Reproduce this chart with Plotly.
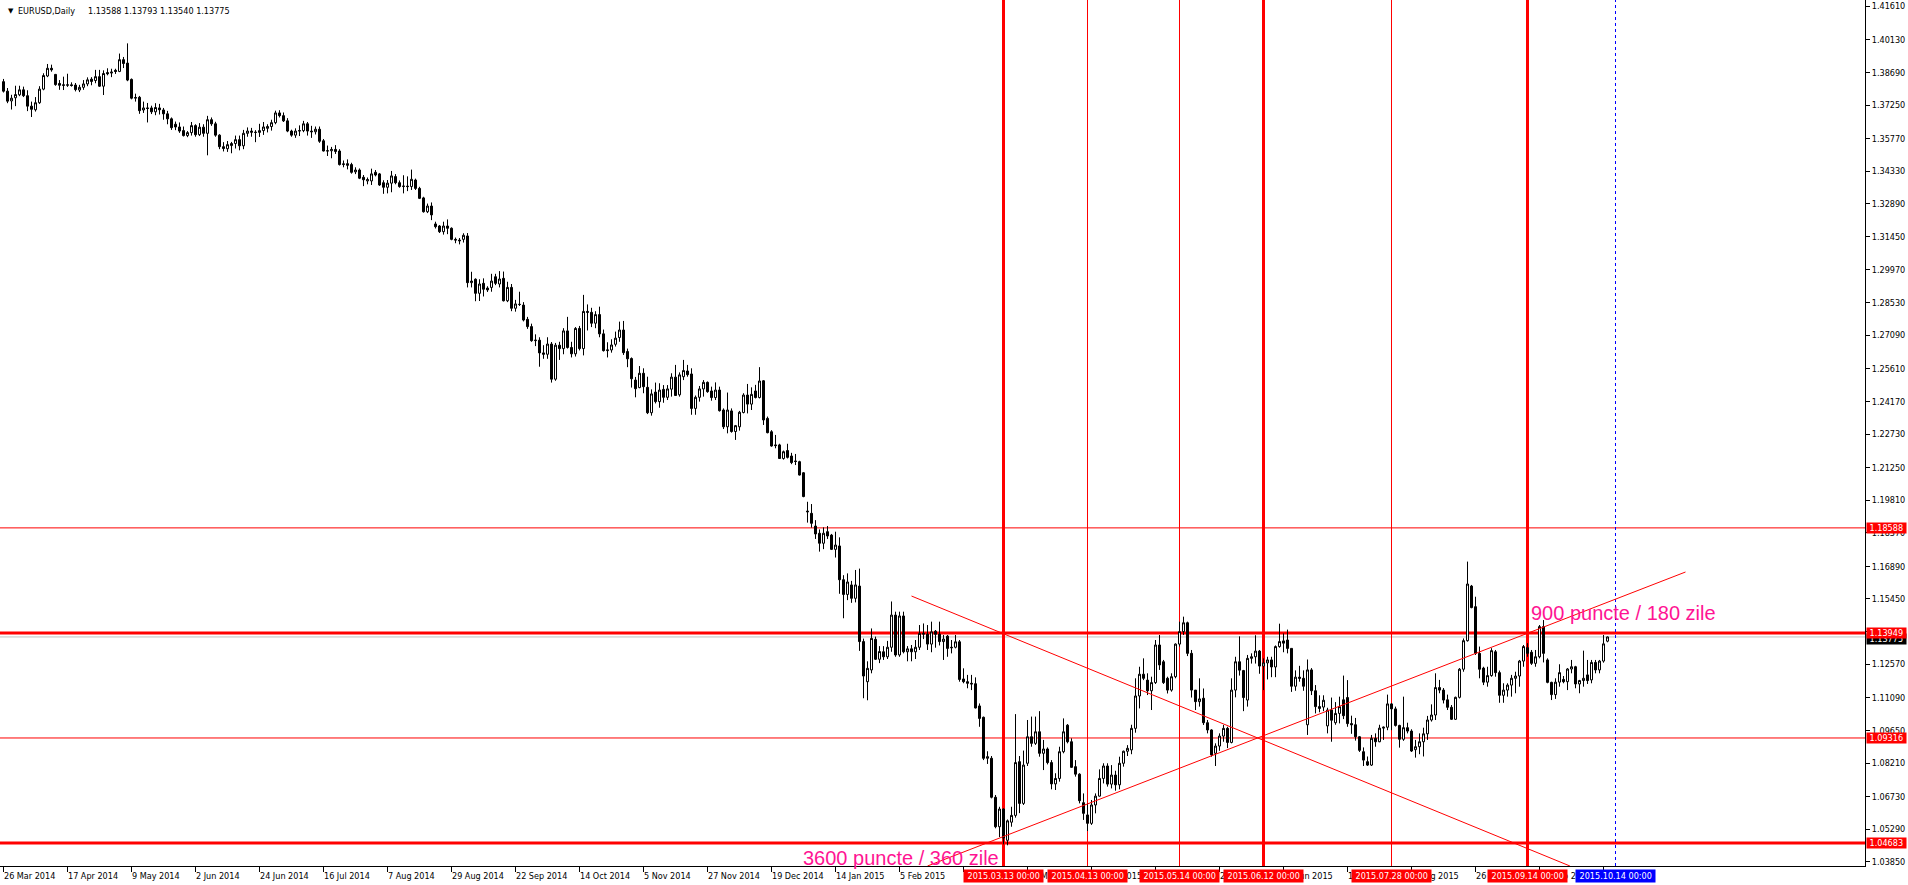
import pandas as pd
import plotly.graph_objects as go

# ---------------- data ----------------
symbol_text = "EURUSD,Daily"
last_ohlc_text = "1.13588 1.13793 1.13540 1.13775"
first_day = "2014-03-26"
last_day = "2015-10-12"
closed_days = ["2014-12-25", "2015-01-01"]

opens = [
    1.3828, 1.3786, 1.3743, 1.3757, 1.3770, 1.3792, 1.3766, 1.3720, 1.3704, 1.3735,
    1.3795, 1.3853, 1.3887, 1.3860, 1.3820, 1.3814, 1.3812, 1.3814, 1.3813, 1.3791,
    1.3803, 1.3818, 1.3839, 1.3833, 1.3850, 1.3808, 1.3868, 1.3866, 1.3878, 1.3873,
    1.3925, 1.3910, 1.3838, 1.3755, 1.3759, 1.3703, 1.3712, 1.3712, 1.3695, 1.3712,
    1.3703, 1.3686, 1.3664, 1.3640, 1.3628, 1.3612, 1.3590, 1.3603, 1.3634, 1.3594,
    1.3627, 1.3600, 1.3660, 1.3642, 1.3592, 1.3541, 1.3532, 1.3546, 1.3555, 1.3572,
    1.3545, 1.3600, 1.3610, 1.3605, 1.3604, 1.3612, 1.3622, 1.3630, 1.3647, 1.3690,
    1.3678, 1.3655, 1.3610, 1.3592, 1.3610, 1.3612, 1.3642, 1.3610, 1.3607, 1.3618,
    1.3567, 1.3522, 1.3523, 1.3529, 1.3522, 1.3462, 1.3466, 1.3462, 1.3430, 1.3438,
    1.3406, 1.3390, 1.3390, 1.3428, 1.3421, 1.3382, 1.3362, 1.3380, 1.3409, 1.3382,
    1.3365, 1.3367, 1.3365, 1.3394, 1.3357, 1.3315, 1.3254, 1.3279, 1.3200, 1.3191,
    1.3166, 1.3191, 1.3181, 1.3132, 1.3129, 1.3132, 1.3147, 1.2941, 1.2956, 1.2894,
    1.2938, 1.2917, 1.2920, 1.2967, 1.2935, 1.2960, 1.2861, 1.2920, 1.2828, 1.2845,
    1.2842, 1.2779, 1.2747, 1.2685, 1.2687, 1.2631, 1.2625, 1.2670, 1.2515, 1.2665,
    1.2650, 1.2728, 1.2655, 1.2627, 1.2739, 1.2650, 1.2814, 1.2810, 1.2762, 1.2800,
    1.2715, 1.2641, 1.2644, 1.2669, 1.2699, 1.2732, 1.2637, 1.2606, 1.2511, 1.2478,
    1.2541, 1.2479, 1.2367, 1.2458, 1.2416, 1.2470, 1.2435, 1.2471, 1.2524, 1.2446,
    1.2526, 1.2551, 1.2538, 1.2386, 1.2435, 1.2472, 1.2501, 1.2463, 1.2434, 1.2467,
    1.2379, 1.2305, 1.2375, 1.2284, 1.2305, 1.2368, 1.2445, 1.2405, 1.2463, 1.2434,
    1.2508, 1.2342, 1.2283, 1.2225, 1.2225, 1.2165, 1.2200, 1.2176, 1.2154, 1.2151,
    1.2102, 1.1933, 1.1923, 1.1867, 1.1835, 1.1791, 1.1842, 1.1827, 1.1764, 1.1779,
    1.1630, 1.1565, 1.1607, 1.1548, 1.1602, 1.1357, 1.1180, 1.1232, 1.1367, 1.1279,
    1.1312, 1.1290, 1.1332, 1.1474, 1.1298, 1.1470, 1.1312, 1.1325, 1.1312, 1.1332,
    1.1393, 1.1390, 1.1346, 1.1403, 1.1390, 1.1357, 1.1381, 1.1332, 1.1332, 1.1356,
    1.1192, 1.1180, 1.1173, 1.1171, 1.1073, 1.1023, 1.0842, 1.0842, 1.0670, 1.0540,
    1.0618, 1.0480, 1.0560, 1.0590, 1.0827, 1.0643, 1.0820, 1.0937, 1.0908, 1.0959,
    1.0864, 1.0883, 1.0823, 1.0729, 1.0753, 1.0871, 1.0988, 1.0915, 1.0805, 1.0772,
    1.0646, 1.0592, 1.0555, 1.0636, 1.0675, 1.0753, 1.0808, 1.0728, 1.0768, 1.0725,
    1.0820, 1.0873, 1.0879, 1.0974, 1.1117, 1.1213, 1.1187, 1.1140, 1.1176, 1.1342,
    1.1268, 1.1195, 1.1143, 1.1202, 1.1346, 1.1401, 1.1440, 1.1305, 1.1143, 1.1092,
    1.1107, 1.0999, 1.0967, 1.0864, 1.0896, 1.0940, 1.0974, 1.0912, 1.1143, 1.1268,
    1.1229, 1.1099, 1.1283, 1.1290, 1.1315, 1.1249, 1.1263, 1.1276, 1.1245, 1.1335,
    1.1360, 1.1364, 1.1327, 1.1160, 1.1200, 1.1195, 1.0990, 1.1232, 1.1140, 1.1070,
    1.1068, 1.0985, 1.1055, 1.0999, 1.1040, 1.1100, 1.1110, 1.0995, 1.0990, 1.0937,
    1.0871, 1.0827, 1.0812, 1.0930, 1.0915, 1.0975, 1.0979, 1.1082, 1.1060, 1.0987,
    1.0926, 1.0977, 1.0962, 1.0880, 1.0893, 1.0915, 1.0950, 1.1011, 1.1033, 1.1154,
    1.1143, 1.1100, 1.1067, 1.1014, 1.1111, 1.1235, 1.1361, 1.1602, 1.1511, 1.1305,
    1.1240, 1.1178, 1.1207, 1.1312, 1.1220, 1.1120, 1.1143, 1.1165, 1.1195, 1.1205,
    1.1271, 1.1330, 1.1310, 1.1261, 1.1290, 1.1423, 1.1276, 1.1177, 1.1123, 1.1178,
    1.1190, 1.1180, 1.1236, 1.1246, 1.1170, 1.1185, 1.1210, 1.1188, 1.1265, 1.1232,
    1.1271, 1.13588,
]

highs = [
    1.3840, 1.3800, 1.3770, 1.3810, 1.3810, 1.3806, 1.3790, 1.3740, 1.3760, 1.3808,
    1.3865, 1.3906, 1.3903, 1.3862, 1.3835, 1.3850, 1.3863, 1.3825, 1.3822, 1.3814,
    1.3835, 1.3847, 1.3848, 1.3880, 1.3880, 1.3878, 1.3887, 1.3885, 1.3885, 1.3952,
    1.3937, 1.3997, 1.3842, 1.3775, 1.3765, 1.3740, 1.3734, 1.3722, 1.3733, 1.3730,
    1.3712, 1.3699, 1.3670, 1.3652, 1.3648, 1.3630, 1.3610, 1.3650, 1.3640, 1.3645,
    1.3640, 1.3677, 1.3670, 1.3651, 1.3596, 1.3561, 1.3566, 1.3562, 1.3590, 1.3590,
    1.3615, 1.3626, 1.3624, 1.3614, 1.3642, 1.3650, 1.3640, 1.3660, 1.3700, 1.3702,
    1.3692, 1.3667, 1.3616, 1.3622, 1.3635, 1.3655, 1.3650, 1.3633, 1.3630, 1.3630,
    1.3575, 1.3546, 1.3540, 1.3548, 1.3530, 1.3480, 1.3485, 1.3470, 1.3450, 1.3445,
    1.3416, 1.3405, 1.3444, 1.3438, 1.3425, 1.3393, 1.3394, 1.3434, 1.3420, 1.3392,
    1.3415, 1.3410, 1.3440, 1.3400, 1.3364, 1.3320, 1.3290, 1.3295, 1.3210, 1.3195,
    1.3210, 1.3220, 1.3185, 1.3140, 1.3138, 1.3159, 1.3160, 1.2989, 1.2960, 1.2956,
    1.2960, 1.2925, 1.2980, 1.2980, 1.2992, 1.2990, 1.2945, 1.2935, 1.2865, 1.2901,
    1.2855, 1.2790, 1.2760, 1.2713, 1.2700, 1.2665, 1.2700, 1.2679, 1.2675, 1.2680,
    1.2740, 1.2790, 1.2680, 1.2745, 1.2750, 1.2887, 1.2845, 1.2830, 1.2815, 1.2835,
    1.2734, 1.2678, 1.2691, 1.2725, 1.2769, 1.2772, 1.2650, 1.2611, 1.2525, 1.2573,
    1.2563, 1.2526, 1.2470, 1.2500, 1.2497, 1.2489, 1.2489, 1.2541, 1.2578, 1.2545,
    1.2600, 1.2578, 1.2563, 1.2443, 1.2485, 1.2511, 1.2505, 1.2482, 1.2501, 1.2482,
    1.2386, 1.2456, 1.2386, 1.2313, 1.2375, 1.2453, 1.2494, 1.2479, 1.2490, 1.2568,
    1.2511, 1.2350, 1.2290, 1.2269, 1.2230, 1.2200, 1.2230, 1.2190, 1.2185, 1.2155,
    1.2105, 1.1974, 1.1964, 1.1893, 1.1852, 1.1861, 1.1867, 1.1832, 1.1842, 1.1817,
    1.1650, 1.1658, 1.1625, 1.1673, 1.1679, 1.1370, 1.1270, 1.1415, 1.1379, 1.1337,
    1.1337, 1.1360, 1.1534, 1.1489, 1.1489, 1.1489, 1.1337, 1.1342, 1.1364, 1.1430,
    1.1437, 1.1430, 1.1445, 1.1408, 1.1445, 1.1386, 1.1386, 1.1364, 1.1386, 1.1364,
    1.1239, 1.1210, 1.1210, 1.1199, 1.1084, 1.1026, 1.0873, 1.0852, 1.0680, 1.0628,
    1.0621, 1.0572, 1.0628, 1.1037, 1.0852, 1.0876, 1.1011, 1.1026, 1.1026, 1.1050,
    1.0923, 1.0890, 1.0834, 1.0776, 1.0893, 1.1018, 1.0993, 1.0930, 1.0834, 1.0776,
    1.0687, 1.0643, 1.0658, 1.0687, 1.0793, 1.0820, 1.0820, 1.0812, 1.0787, 1.0849,
    1.0876, 1.0900, 1.0990, 1.1195, 1.1246, 1.1283, 1.1217, 1.1202, 1.1364, 1.1386,
    1.1276, 1.1202, 1.1217, 1.1349, 1.1445, 1.1467, 1.1445, 1.1320, 1.1143, 1.1195,
    1.1150, 1.1011, 1.0970, 1.0908, 1.0952, 1.0989, 1.0981, 1.1195, 1.1290, 1.1380,
    1.1232, 1.1298, 1.1305, 1.1385, 1.1320, 1.1283, 1.1290, 1.1290, 1.1340, 1.1436,
    1.1393, 1.1410, 1.1327, 1.1230, 1.1250, 1.1230, 1.1278, 1.1240, 1.1165, 1.1120,
    1.1120, 1.1065, 1.1110, 1.1090, 1.1114, 1.1207, 1.1187, 1.1030, 1.1020, 1.0940,
    1.0890, 1.0850, 1.0945, 1.0952, 1.0990, 1.0982, 1.1123, 1.1085, 1.1070, 1.0990,
    1.1114, 1.0999, 1.0970, 1.0923, 1.0952, 1.0977, 1.1029, 1.1080, 1.1217, 1.1188,
    1.1152, 1.1123, 1.1077, 1.1114, 1.1240, 1.1371, 1.1710, 1.1607, 1.1555, 1.1335,
    1.1246, 1.1246, 1.1328, 1.1320, 1.1229, 1.1173, 1.1173, 1.1210, 1.1224, 1.1276,
    1.1342, 1.1350, 1.1320, 1.1320, 1.1430, 1.1452, 1.1283, 1.1180, 1.1195, 1.1257,
    1.1205, 1.1240, 1.1276, 1.1250, 1.1188, 1.1317, 1.1276, 1.1276, 1.1276, 1.1276,
    1.1386, 1.13793,
]

lows = [
    1.3780, 1.3733, 1.3705, 1.3720, 1.3764, 1.3760, 1.3698, 1.3672, 1.3696, 1.3730,
    1.3790, 1.3848, 1.3872, 1.3810, 1.3792, 1.3791, 1.3805, 1.3806, 1.3785, 1.3782,
    1.3792, 1.3808, 1.3812, 1.3821, 1.3805, 1.3769, 1.3856, 1.3848, 1.3862, 1.3870,
    1.3888, 1.3830, 1.3750, 1.3740, 1.3686, 1.3690, 1.3648, 1.3685, 1.3680, 1.3683,
    1.3660, 1.3640, 1.3615, 1.3614, 1.3602, 1.3586, 1.3583, 1.3590, 1.3585, 1.3588,
    1.3585, 1.3503, 1.3633, 1.3585, 1.3530, 1.3520, 1.3518, 1.3512, 1.3533, 1.3525,
    1.3530, 1.3585, 1.3585, 1.3561, 1.3584, 1.3593, 1.3604, 1.3612, 1.3640, 1.3670,
    1.3650, 1.3605, 1.3585, 1.3580, 1.3588, 1.3605, 1.3590, 1.3580, 1.3595, 1.3558,
    1.3520, 1.3500, 1.3490, 1.3509, 1.3458, 1.3450, 1.3441, 1.3422, 1.3420, 1.3398,
    1.3367, 1.3375, 1.3372, 1.3410, 1.3368, 1.3333, 1.3335, 1.3340, 1.3375, 1.3360,
    1.3335, 1.3345, 1.3350, 1.3350, 1.3310, 1.3250, 1.3248, 1.3217, 1.3180, 1.3160,
    1.3153, 1.3155, 1.3128, 1.3115, 1.3110, 1.3118, 1.2920, 1.2920, 1.2859, 1.2860,
    1.2880, 1.2900, 1.2901, 1.2930, 1.2920, 1.2858, 1.2855, 1.2815, 1.2813, 1.2838,
    1.2770, 1.2737, 1.2680, 1.2661, 1.2570, 1.2605, 1.2605, 1.2500, 1.2508, 1.2600,
    1.2625, 1.2650, 1.2611, 1.2615, 1.2642, 1.2620, 1.2730, 1.2745, 1.2740, 1.2700,
    1.2637, 1.2611, 1.2632, 1.2659, 1.2680, 1.2622, 1.2568, 1.2478, 1.2435, 1.2475,
    1.2453, 1.2361, 1.2354, 1.2408, 1.2389, 1.2411, 1.2423, 1.2438, 1.2442, 1.2438,
    1.2511, 1.2526, 1.2358, 1.2358, 1.2416, 1.2438, 1.2455, 1.2420, 1.2423, 1.2372,
    1.2295, 1.2276, 1.2279, 1.2247, 1.2288, 1.2364, 1.2364, 1.2379, 1.2430, 1.2430,
    1.2313, 1.2276, 1.2217, 1.2210, 1.2163, 1.2160, 1.2165, 1.2140, 1.2136, 1.2090,
    1.1994, 1.1882, 1.1860, 1.1810, 1.1754, 1.1765, 1.1810, 1.1761, 1.1728, 1.1568,
    1.1460, 1.1540, 1.1528, 1.1530, 1.1316, 1.1107, 1.1098, 1.1217, 1.1276, 1.1262,
    1.1276, 1.1280, 1.1312, 1.1290, 1.1290, 1.1305, 1.1270, 1.1270, 1.1280, 1.1320,
    1.1368, 1.1320, 1.1310, 1.1330, 1.1340, 1.1276, 1.1290, 1.1305, 1.1327, 1.1180,
    1.1173, 1.1151, 1.1143, 1.1062, 1.0981, 1.0834, 1.0817, 1.0665, 1.0533, 1.0494,
    1.0462, 1.0458, 1.0540, 1.0580, 1.0600, 1.0636, 1.0808, 1.0893, 1.0901, 1.0849,
    1.0790, 1.0815, 1.0705, 1.0702, 1.0739, 1.0864, 1.0908, 1.0800, 1.0761, 1.0643,
    1.0570, 1.0521, 1.0548, 1.0599, 1.0673, 1.0731, 1.0717, 1.0709, 1.0699, 1.0705,
    1.0805, 1.0852, 1.0860, 1.0955, 1.1062, 1.1187, 1.1121, 1.1055, 1.1170, 1.1232,
    1.1170, 1.1128, 1.1136, 1.1195, 1.1335, 1.1386, 1.1293, 1.1110, 1.1055, 1.1070,
    1.0989, 1.0952, 1.0849, 1.0808, 1.0875, 1.0915, 1.0887, 1.0908, 1.1111, 1.1207,
    1.1050, 1.1070, 1.1260, 1.1260, 1.1215, 1.1143, 1.1190, 1.1200, 1.1200, 1.1330,
    1.1310, 1.1305, 1.1135, 1.1140, 1.1180, 1.1140, 1.0945, 1.1121, 1.1040, 1.1045,
    1.1050, 1.0952, 1.0915, 1.0990, 1.0996, 1.1015, 1.0981, 1.0950, 1.0920, 1.0870,
    1.0808, 1.0808, 1.0808, 1.0893, 1.0913, 1.0923, 1.0966, 1.0966, 1.0982, 1.0889,
    1.0919, 1.0952, 1.0870, 1.0845, 1.0860, 1.0850, 1.0923, 1.1004, 1.1011, 1.1129,
    1.1084, 1.1055, 1.1011, 1.1011, 1.1106, 1.1224, 1.1357, 1.1504, 1.1298, 1.1195,
    1.1165, 1.1158, 1.1202, 1.1202, 1.1087, 1.1087, 1.1114, 1.1114, 1.1129, 1.1158,
    1.1246, 1.1290, 1.1254, 1.1246, 1.1283, 1.1265, 1.1173, 1.1099, 1.1104, 1.1158,
    1.1173, 1.1143, 1.1217, 1.1151, 1.1129, 1.1158, 1.1170, 1.1173, 1.1217, 1.1217,
    1.1264, 1.13540,
]

closes = [
    1.3786, 1.3742, 1.3755, 1.3771, 1.3792, 1.3766, 1.3720, 1.3706, 1.3735, 1.3795,
    1.3855, 1.3887, 1.3880, 1.3815, 1.3812, 1.3812, 1.3814, 1.3811, 1.3793, 1.3803,
    1.3818, 1.3836, 1.3829, 1.3850, 1.3808, 1.3864, 1.3863, 1.3870, 1.3873, 1.3925,
    1.3908, 1.3835, 1.3755, 1.3758, 1.3700, 1.3712, 1.3710, 1.3695, 1.3714, 1.3704,
    1.3686, 1.3664, 1.3625, 1.3628, 1.3610, 1.3590, 1.3603, 1.3634, 1.3594, 1.3627,
    1.3600, 1.3660, 1.3642, 1.3592, 1.3541, 1.3533, 1.3550, 1.3555, 1.3572, 1.3545,
    1.3600, 1.3610, 1.3605, 1.3604, 1.3612, 1.3628, 1.3630, 1.3647, 1.3690, 1.3678,
    1.3655, 1.3610, 1.3592, 1.3610, 1.3612, 1.3642, 1.3610, 1.3607, 1.3618, 1.3565,
    1.3522, 1.3523, 1.3529, 1.3520, 1.3462, 1.3465, 1.3459, 1.3428, 1.3438, 1.3402,
    1.3395, 1.3396, 1.3421, 1.3416, 1.3372, 1.3362, 1.3380, 1.3412, 1.3382, 1.3365,
    1.3367, 1.3365, 1.3397, 1.3357, 1.3313, 1.3254, 1.3279, 1.3240, 1.3188, 1.3166,
    1.3191, 1.3181, 1.3132, 1.3129, 1.3126, 1.3150, 1.2941, 1.2948, 1.2894, 1.2935,
    1.2912, 1.2909, 1.2948, 1.2938, 1.2957, 1.2861, 1.2920, 1.2828, 1.2847, 1.2845,
    1.2776, 1.2747, 1.2685, 1.2687, 1.2631, 1.2625, 1.2670, 1.2515, 1.2665, 1.2650,
    1.2728, 1.2655, 1.2627, 1.2739, 1.2650, 1.2814, 1.2810, 1.2762, 1.2800, 1.2715,
    1.2641, 1.2644, 1.2666, 1.2696, 1.2732, 1.2632, 1.2605, 1.2517, 1.2473, 1.2541,
    1.2482, 1.2367, 1.2450, 1.2416, 1.2467, 1.2435, 1.2472, 1.2524, 1.2443, 1.2534,
    1.2553, 1.2535, 1.2386, 1.2435, 1.2472, 1.2501, 1.2460, 1.2434, 1.2467, 1.2376,
    1.2305, 1.2379, 1.2284, 1.2310, 1.2369, 1.2445, 1.2405, 1.2448, 1.2434, 1.2507,
    1.2335, 1.2279, 1.2220, 1.2222, 1.2165, 1.2195, 1.2170, 1.2147, 1.2152, 1.2092,
    1.1997, 1.1930, 1.1879, 1.1832, 1.1791, 1.1835, 1.1823, 1.1764, 1.1783, 1.1630,
    1.1565, 1.1620, 1.1548, 1.1607, 1.1357, 1.1205, 1.1239, 1.1371, 1.1279, 1.1313,
    1.1290, 1.1332, 1.1474, 1.1298, 1.1470, 1.1312, 1.1325, 1.1312, 1.1332, 1.1393,
    1.1390, 1.1346, 1.1400, 1.1389, 1.1357, 1.1368, 1.1327, 1.1330, 1.1356, 1.1190,
    1.1180, 1.1173, 1.1170, 1.1064, 1.1018, 1.0842, 1.0849, 1.0670, 1.0540, 1.0618,
    1.0490, 1.0566, 1.0590, 1.0823, 1.0643, 1.0812, 1.0937, 1.0908, 1.0959, 1.0864,
    1.0883, 1.0823, 1.0729, 1.0753, 1.0871, 1.0959, 1.0915, 1.0802, 1.0772, 1.0655,
    1.0599, 1.0555, 1.0636, 1.0675, 1.0753, 1.0808, 1.0728, 1.0768, 1.0725, 1.0820,
    1.0873, 1.0886, 1.0974, 1.1117, 1.1213, 1.1195, 1.1140, 1.1176, 1.1342, 1.1254,
    1.1176, 1.1143, 1.1202, 1.1346, 1.1401, 1.1440, 1.1305, 1.1143, 1.1092, 1.1104,
    1.0999, 1.0967, 1.0857, 1.0896, 1.0940, 1.0974, 1.0912, 1.1143, 1.1268, 1.1231,
    1.1110, 1.1283, 1.1290, 1.1315, 1.1249, 1.1263, 1.1276, 1.1245, 1.1335, 1.1357,
    1.1350, 1.1327, 1.1160, 1.1200, 1.1195, 1.1160, 1.1232, 1.1140, 1.1070, 1.1062,
    1.1098, 1.1055, 1.1010, 1.1040, 1.1070, 1.1030, 1.0995, 1.0990, 1.0937, 1.0877,
    1.0834, 1.0812, 1.0930, 1.0915, 1.0975, 1.0979, 1.1082, 1.1060, 1.0987, 1.0926,
    1.0977, 1.0962, 1.0874, 1.0893, 1.0915, 1.0950, 1.1011, 1.1033, 1.1154, 1.1143,
    1.1099, 1.1067, 1.1014, 1.1111, 1.1235, 1.1361, 1.1611, 1.1507, 1.1305, 1.1235,
    1.1178, 1.1207, 1.1317, 1.1220, 1.1120, 1.1143, 1.1165, 1.1195, 1.1205, 1.1271,
    1.1335, 1.1305, 1.1261, 1.1290, 1.1423, 1.1305, 1.1177, 1.1123, 1.1178, 1.1220,
    1.1180, 1.1236, 1.1246, 1.1170, 1.1185, 1.1195, 1.1185, 1.1265, 1.1232, 1.1271,
    1.1347, 1.13775,
]

# horizontal price levels drawn on the chart
level_prices = [1.18588, 1.13949, 1.09316, 1.04683]
level_thick = [False, True, False, True]
bid_price = 1.13775

# vertical time lines
vline_dates = ["2015-03-13", "2015-04-13", "2015-05-14", "2015-06-12", "2015-07-28", "2015-09-14"]
vline_thick = [True, False, False, True, False, True]
future_line_date = "2015-10-14"

# trend lines: (bar number, price) anchors
falling_line = [(227.0, 1.15580), (391.6, 1.03667)]
rising_line = [(231.0, 1.03667), (420.5, 1.16641)]

texts = [
    ("900 puncte / 180 zile", 381.25, 1.14832, "left"),
    ("3600 puncte / 360 zile", 249.25, 1.04000, "right"),
]

y_ticks = [1.41610, 1.40130, 1.38690, 1.37250, 1.35770, 1.34330, 1.32890, 1.31450,
           1.29970, 1.28530, 1.27090, 1.25610, 1.24170, 1.22730, 1.21250, 1.19810,
           1.18370, 1.16890, 1.15450, 1.14010, 1.12570, 1.11090, 1.09650, 1.08210,
           1.06730, 1.05290, 1.03850]
label_every = 16

# ---------------- build ----------------
calendar = [d for d in pd.bdate_range(first_day, "2015-12-31")
            if d.strftime("%Y-%m-%d") not in closed_days]
bar_of = {d.strftime("%Y-%m-%d"): i for i, d in enumerate(calendar)}
n = len(closes)
bars = list(range(n))
assert calendar[n - 1].strftime("%Y-%m-%d") == last_day

FONT = "DejaVu Sans Condensed, Liberation Sans, Arial, sans-serif"
BIG = "Liberation Sans, Arial, sans-serif"
FS = 9
RED = "#FF0000"
NB = "\u00a0"

fig = go.Figure()
fig.add_trace(go.Candlestick(
    x=bars, open=opens, high=highs, low=lows, close=closes,
    increasing=dict(line=dict(color="#000000", width=1), fillcolor="#FFFFFF"),
    decreasing=dict(line=dict(color="#000000", width=1), fillcolor="#000000"),
    whiskerwidth=0, hoverinfo="skip", showlegend=False,
))

shapes = []
for p, thick in zip(level_prices, level_thick):
    shapes.append(dict(type="line", xref="paper", yref="y", x0=0, x1=1, y0=p, y1=p,
                       line=dict(color=RED, width=3 if thick else 1), layer="below"))
shapes.append(dict(type="line", xref="paper", yref="y", x0=0, x1=1, y0=bid_price, y1=bid_price,
                   line=dict(color="#C0C0C0", width=1), layer="below"))
for d, thick in zip(vline_dates, vline_thick):
    b = bar_of[d]
    shapes.append(dict(type="line", xref="x", yref="paper", x0=b, x1=b, y0=0, y1=1,
                       line=dict(color=RED, width=3 if thick else 1), layer="below"))
fb = bar_of[future_line_date]
shapes.append(dict(type="line", xref="x", yref="paper", x0=fb, x1=fb, y0=0, y1=1,
                   line=dict(color="#0000FF", width=1, dash="3px,3px"), layer="below"))
for ln in (falling_line, rising_line):
    (xa, ya), (xb, yb) = ln
    shapes.append(dict(type="line", xref="x", yref="y", x0=xa, y0=ya, x1=xb, y1=yb,
                       line=dict(color=RED, width=1), layer="above"))

ann = []
tick_bars = list(range(0, n, label_every))
for b in tick_bars:
    d = calendar[b]
    ann.append(dict(xref="x", yref="paper", x=b, y=0, xanchor="left", yanchor="middle",
                    yshift=-10, xshift=-1, showarrow=False, borderpad=0,
                    text=f"{d.day} {d.strftime('%b')} {d.year}",
                    font=dict(family=FONT, size=FS, color="#000000")))
for d in vline_dates:
    ann.append(dict(xref="x", yref="paper", x=bar_of[d], y=0, xanchor="center", yanchor="middle",
                    yshift=-10, showarrow=False, text=NB + d.replace("-", ".") + " 00:00" + NB,
                    bgcolor=RED, borderpad=1, font=dict(family=FONT, size=FS, color="#FFFFFF")))
ann.append(dict(xref="x", yref="paper", x=fb, y=0, xanchor="center", yanchor="middle",
                yshift=-10, showarrow=False, text=NB + future_line_date.replace("-", ".") + " 00:00" + NB,
                bgcolor="#0000FF", borderpad=1, font=dict(family=FONT, size=FS, color="#FFFFFF")))
ann.append(dict(xref="paper", yref="y", x=1, y=bid_price, xanchor="left", yanchor="middle",
                xshift=1, yshift=-2, showarrow=False, text=NB + f"{bid_price:.5f}" + NB,
                bgcolor="#000000", borderpad=0, font=dict(family=FONT, size=FS, color="#FFFFFF")))
for p in level_prices:
    ann.append(dict(xref="paper", yref="y", x=1, y=p, xanchor="left", yanchor="middle",
                    xshift=1, showarrow=False, text=NB + f"{p:.5f}" + NB, bgcolor=RED,
                    borderpad=0, font=dict(family=FONT, size=FS, color="#FFFFFF")))
for t, bx, py, anchor in texts:
    ann.append(dict(xref="x", yref="y", x=bx, y=py, xanchor=anchor, yanchor="middle",
                    showarrow=False, text=t, font=dict(family=BIG, size=20, color="#FF1493")))
ann.append(dict(xref="paper", yref="paper", x=0, y=1, xanchor="center", yanchor="middle",
                xshift=11, yshift=-11, showarrow=False, text="▼",
                font=dict(family="DejaVu Sans", size=7, color="#000000")))
ann.append(dict(xref="paper", yref="paper", x=0, y=1, xanchor="left", yanchor="middle",
                xshift=16, yshift=-11, showarrow=False, text=symbol_text,
                font=dict(family=FONT, size=FS, color="#000000")))
ann.append(dict(xref="paper", yref="paper", x=0, y=1, xanchor="left", yanchor="middle",
                xshift=86, yshift=-11, showarrow=False, text=last_ohlc_text,
                font=dict(family=FONT, size=FS, color="#000000")))

W, H = 1908, 885
plot_right, plot_bottom = 1865, 866
bar_px = 4.0
px_per_price = 2266.0
y_top = 1.41610 + 6.2 / px_per_price
y_bot = y_top - plot_bottom / px_per_price
x_left = -3.5 / bar_px
x_right = x_left + plot_right / bar_px

fig.update_layout(
    template="none",
    width=W, height=H,
    margin=dict(l=0, r=W - plot_right, t=0, b=H - plot_bottom, pad=0, autoexpand=False),
    paper_bgcolor="#FFFFFF", plot_bgcolor="#FFFFFF",
    shapes=shapes, annotations=ann, showlegend=False,
    boxgap=0.5, boxgroupgap=0.0,
    font=dict(family=FONT, size=FS, color="#000000"),
    xaxis=dict(range=[x_left, x_right], showgrid=False, zeroline=False, automargin=False,
               showline=True, linecolor="#000000", linewidth=1,
               tickmode="array", tickvals=tick_bars, ticks="outside", ticklen=5,
               tickcolor="#000000", tickwidth=1, showticklabels=False,
               rangeslider=dict(visible=False), fixedrange=True),
    yaxis=dict(range=[y_bot, y_top], side="right", showgrid=False, zeroline=False,
               automargin=False, showline=True, linecolor="#000000", linewidth=1,
               tickmode="array", tickvals=y_ticks, ticktext=[f"{v:.5f}" for v in y_ticks],
               ticks="outside", ticklen=4, tickcolor="#000000", tickwidth=1,
               tickfont=dict(family=FONT, size=FS, color="#000000"), fixedrange=True),
)

fig.write_html(
    "out.html",
    config={"displayModeBar": False, "staticPlot": True},
    post_script="document.body.style.margin='0';document.body.style.padding='0';"
                "document.body.style.overflow='hidden';",
)
